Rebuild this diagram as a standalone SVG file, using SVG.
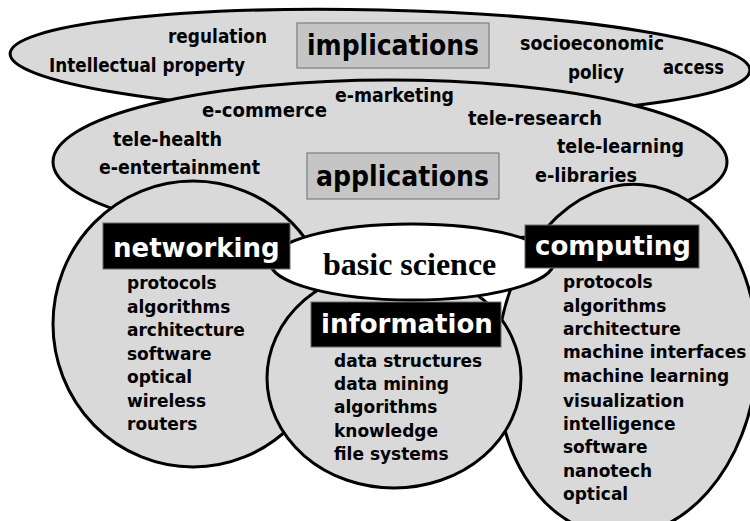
<svg xmlns="http://www.w3.org/2000/svg" width="750" height="521" viewBox="0 0 750 521">
  <style>
    .area { fill: #d9d9d9; stroke: #000; stroke-width: 3; }
    .core { fill: #fff; stroke: #000; stroke-width: 3; }
    .tag { fill: #c5c5c5; stroke: #7d7d7d; stroke-width: 1.2; }
    .dark { fill: #000; stroke: #6a6a6a; stroke-width: 1; }
    .title { font-family: "DejaVu Sans Condensed", "DejaVu Sans", sans-serif; font-stretch: condensed; font-weight: bold; font-size: 28px; fill: #000; }
    .term { font-family: "DejaVu Sans Condensed", "DejaVu Sans", sans-serif; font-stretch: condensed; font-weight: bold; font-size: 19px; fill: #000; }
    .head { font-family: "DejaVu Sans", Verdana, sans-serif; font-weight: bold; font-size: 26px; fill: #fff; }
    .item { font-family: "DejaVu Sans", Verdana, sans-serif; font-weight: bold; font-size: 17px; fill: #000; }
    .sci { font-family: "Liberation Serif", "Times New Roman", serif; font-weight: bold; font-size: 32px; fill: #000; }
  </style>

  <!-- outer band: implications -->
  <g id="implications">
    <ellipse class="area" cx="380" cy="62" rx="370" ry="52" transform="rotate(1.3 380 62)"/>
    <rect class="tag" x="297" y="23" width="192" height="45"/>
    <text class="title" x="307" y="55" textLength="172" lengthAdjust="spacingAndGlyphs">implications</text>
    <text class="term" x="168" y="43" textLength="99" lengthAdjust="spacingAndGlyphs">regulation</text>
    <text class="term" x="49" y="72" textLength="196" lengthAdjust="spacingAndGlyphs">Intellectual property</text>
    <text class="term" x="520" y="50" textLength="144" lengthAdjust="spacingAndGlyphs">socioeconomic</text>
    <text class="term" x="568" y="79" textLength="56" lengthAdjust="spacingAndGlyphs">policy</text>
    <text class="term" x="663" y="74" textLength="61" lengthAdjust="spacingAndGlyphs">access</text>
  </g>

  <!-- second band: applications -->
  <g id="applications">
    <ellipse class="area" cx="390" cy="162" rx="337" ry="82"/>
    <rect class="tag" x="307" y="153" width="192" height="46"/>
    <text class="title" x="316" y="186" textLength="173" lengthAdjust="spacingAndGlyphs">applications</text>
    <text class="term" x="335" y="102" textLength="119" lengthAdjust="spacingAndGlyphs">e-marketing</text>
    <text class="term" x="202" y="117" textLength="125" lengthAdjust="spacingAndGlyphs">e-commerce</text>
    <text class="term" x="468" y="125" textLength="134" lengthAdjust="spacingAndGlyphs">tele-research</text>
    <text class="term" x="113" y="146" textLength="109" lengthAdjust="spacingAndGlyphs">tele-health</text>
    <text class="term" x="557" y="153" textLength="127" lengthAdjust="spacingAndGlyphs">tele-learning</text>
    <text class="term" x="99" y="174" textLength="161" lengthAdjust="spacingAndGlyphs">e-entertainment</text>
    <text class="term" x="535" y="182" textLength="102" lengthAdjust="spacingAndGlyphs">e-libraries</text>
  </g>

  <!-- networking disc and its topics -->
  <g id="networking">
    <ellipse class="area" cx="193" cy="324" rx="140" ry="143"/>
    <text class="item" x="127" y="289">protocols</text>
    <text class="item" x="127" y="313">algorithms</text>
    <text class="item" x="127" y="336">architecture</text>
    <text class="item" x="127" y="360">software</text>
    <text class="item" x="127" y="383">optical</text>
    <text class="item" x="127" y="407">wireless</text>
    <text class="item" x="127" y="430">routers</text>
  </g>

  <!-- computing disc and its topics -->
  <g id="computing">
    <ellipse class="area" cx="627" cy="360" rx="130" ry="176" transform="rotate(5 627 360)"/>
    <text class="item" x="563" y="288">protocols</text>
    <text class="item" x="563" y="312">algorithms</text>
    <text class="item" x="563" y="335">architecture</text>
    <text class="item" x="563" y="358">machine interfaces</text>
    <text class="item" x="563" y="382">machine learning</text>
    <text class="item" x="563" y="407">visualization</text>
    <text class="item" x="563" y="430">intelligence</text>
    <text class="item" x="563" y="453">software</text>
    <text class="item" x="563" y="477">nanotech</text>
    <text class="item" x="563" y="500">optical</text>
  </g>

  <!-- information disc, box and topics -->
  <g id="information">
    <ellipse class="area" cx="394" cy="378" rx="127" ry="110"/>
    <rect class="dark" x="311" y="302" width="190" height="45"/>
    <text class="head" x="321" y="333">information</text>
    <text class="item" x="334" y="367">data structures</text>
    <text class="item" x="334" y="390">data mining</text>
    <text class="item" x="334" y="413">algorithms</text>
    <text class="item" x="334" y="437">knowledge</text>
    <text class="item" x="334" y="460">file systems</text>
  </g>

  <!-- shared core -->
  <g id="basic-science">
    <ellipse class="core" cx="412" cy="262" rx="142" ry="38"/>
    <text class="sci" x="323" y="275">basic science</text>
  </g>

  <!-- header boxes sit above the core -->
  <g id="networking-label">
    <rect class="dark" x="103" y="223" width="187" height="46"/>
    <text class="head" x="113" y="257">networking</text>
  </g>
  <g id="computing-label">
    <rect class="dark" x="525" y="225" width="174" height="43"/>
    <text class="head" x="535" y="255">computing</text>
  </g>
</svg>
